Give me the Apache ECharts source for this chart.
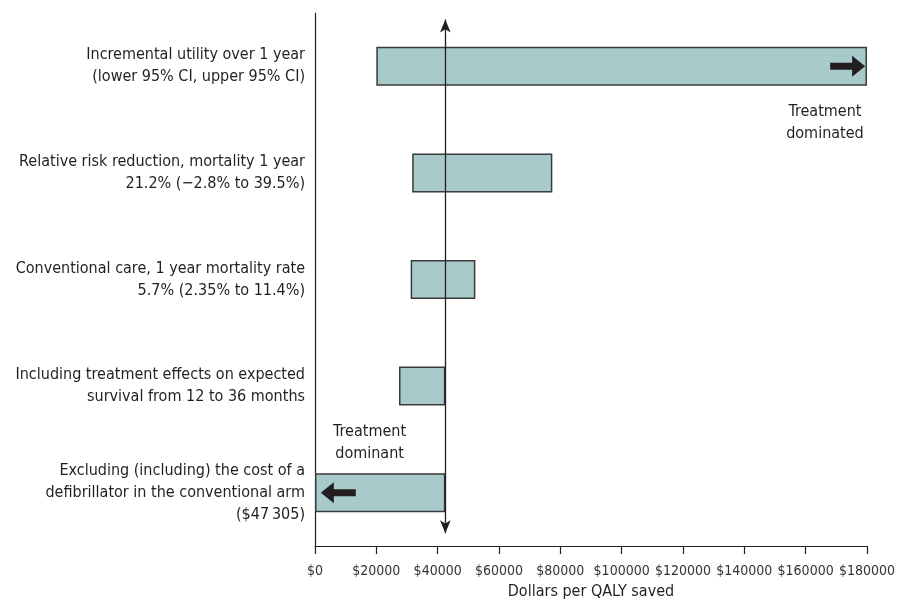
<!DOCTYPE html>
<html>
<head>
<meta charset="utf-8">
<script src="https://cdn.jsdelivr.net/npm/echarts@6/dist/echarts.min.js"></script>
<style>
  html, body { margin: 0; padding: 0; background: #fff; }
  #main { width: 898px; height: 611px; }
</style>
</head>
<body>
<div id="main"></div>
<script>
// data
const categories = [
  'Incremental utility over 1 year\n(lower 95% CI, upper 95% CI)',
  'Relative risk reduction, mortality 1 year\n21.2% (\u22122.8% to 39.5%)',
  'Conventional care, 1 year mortality rate\n5.7% (2.35% to 11.4%)',
  'Including treatment effects on expected\nsurvival from 12 to 36 months',
  'Excluding (including) the cost of a\ndefibrillator in the conventional arm\n($47\u2009305)'
]
const lows = [20000, 31700, 31200, 27400, 0]
const highs = [180000, 77400, 52300, 42500, 42500]
const baseCase = 42500
const xMin = 0
const xMax = 180000
const xStep = 20000
// arrows inside the open-ended bars: [value, row position, direction]
const arrows = [[173700, 0, 'right'], [7600, 4, 'left']]
// text notes: [value, row position, text]
const notes = [[166300, 0.53, 'Treatment\ndominated'], [17800, 3.53, 'Treatment\ndominant']]
// vertical base-case arrow spans these row positions
const baseSpan = [-0.44, 4.38]

const FONT = "'DejaVu Sans Condensed', 'DejaVu Sans', sans-serif"
const INK = '#231f20'
const arrowPath = 'path://M0,7 L22,7 L22,0 L35,10.5 L22,21 L22,14 L0,14 Z'

const myChart = echarts.init(document.getElementById('main'))

const option = {
  animation: false,
  textStyle: { fontFamily: FONT, color: INK },
  grid: { left: 315, right: 29, top: 13, bottom: 65 },
  xAxis: {
    type: 'value',
    min: xMin,
    max: xMax,
    interval: xStep,
    name: 'Dollars per QALY saved',
    nameLocation: 'middle',
    nameGap: 38,
    nameTextStyle: { fontFamily: FONT, fontSize: 16, color: INK },
    axisLine: { show: true, onZero: false, lineStyle: { color: INK, width: 1.2 } },
    axisTick: { show: true, length: 8, lineStyle: { color: INK, width: 1.2 } },
    axisLabel: {
      margin: 18,
      fontFamily: FONT,
      fontSize: 14,
      color: '#333',
      showMinLabel: true,
      showMaxLabel: true,
      hideOverlap: false,
      formatter: v => '$' + v
    },
    splitLine: { show: false }
  },
  yAxis: [
    {
      type: 'category',
      inverse: true,
      data: categories,
      axisLine: { show: true, lineStyle: { color: INK, width: 1.2 } },
      axisTick: { show: false },
      axisLabel: {
        margin: 10,
        fontFamily: FONT,
        fontSize: 16,
        lineHeight: 22,
        color: INK,
        align: 'right'
      }
    },
    {
      // hidden helper axis matching the category bands, for annotations
      type: 'value',
      inverse: true,
      min: -0.5,
      max: categories.length - 0.5,
      show: false
    }
  ],
  series: [
    {
      type: 'bar',
      stack: 'range',
      silent: true,
      barWidth: 39,
      itemStyle: { color: 'transparent' },
      data: lows
    },
    {
      type: 'bar',
      stack: 'range',
      silent: true,
      barWidth: 39,
      itemStyle: { color: '#a8cacb', borderColor: '#3a3a3a', borderWidth: 1.5 },
      data: highs.map((h, i) => h - lows[i])
    },
    {
      type: 'scatter',
      yAxisIndex: 1,
      silent: true,
      symbol: arrowPath,
      symbolSize: [35, 21],
      itemStyle: { color: INK, opacity: 1 },
      data: arrows.map(a => ({ value: [a[0], a[1]], symbolRotate: a[2] === 'left' ? 180 : 0 })),
      z: 5
    },
    {
      type: 'scatter',
      yAxisIndex: 1,
      silent: true,
      symbolSize: 0,
      itemStyle: { opacity: 1 },
      label: {
        show: true,
        position: 'inside',
        formatter: p => p.data.text,
        fontFamily: FONT,
        fontSize: 16,
        lineHeight: 22,
        color: INK,
        align: 'center'
      },
      data: notes.map(n => ({ value: [n[0], n[1]], text: n[2] })),
      markLine: {
        silent: true,
        symbol: ['arrow', 'arrow'],
        symbolSize: [8, 13],
        label: { show: false },
        lineStyle: { color: INK, width: 1.3, type: 'solid', opacity: 1 },
        data: [[{ coord: [baseCase, baseSpan[0]] }, { coord: [baseCase, baseSpan[1]] }]]
      },
      z: 5
    }
  ]
}
myChart.setOption(option)
window.addEventListener('resize', function () {
  myChart.resize()
})
</script>
</body>
</html>
